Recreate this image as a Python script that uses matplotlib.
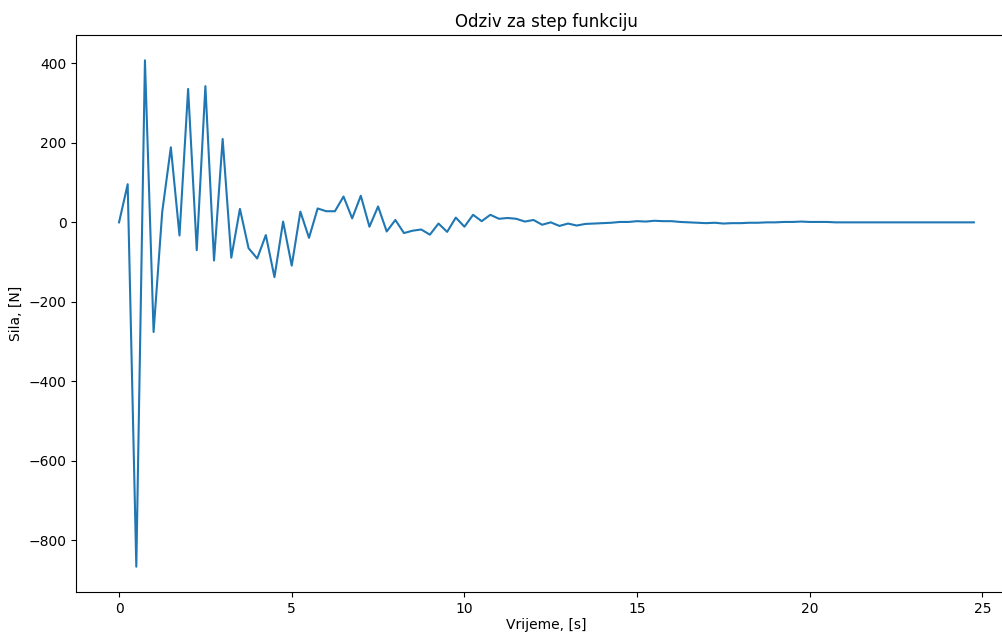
import numpy as np
import matplotlib
matplotlib.use('Agg')
import matplotlib.pyplot as plt

# sample spacing of the response [s]
dt = 0.25

# force response, one value per time step
sila = [0, 96, -867, 408, -276, 26, 189, -33, 336, -70,
        343, -96, 210, -89, 34, -65, -91, -32, -138, 2,
        -109, 27, -39, 35, 28, 28, 65, 10, 67, -11,
        40, -23, 6, -27, -21, -18, -31, -3, -24, 12,
        -11, 19, 3, 19, 9, 11, 9, 2, 6, -6,
        0, -9, -3, -8, -4, -3, -2, -1, 1, 1,
        3, 2, 4, 3, 3, 1, 0, -1, -2, -1,
        -3, -2, -2, -1, -1, 0, 0, 1, 1, 2,
        1, 1, 1, 0, 0, 0, 0, 0, 0, 0,
        0, 0, 0, 0, 0, 0, 0, 0, 0, 0]
vrijeme = np.arange(len(sila)) * dt

fig = plt.figure(figsize=(10.03, 6.34), dpi=100)
# the reference is cropped on the right, so the axes runs past the figure edge
ax = fig.add_axes([76.3 / 1003, 42 / 634, 940.3 / 1003, 557 / 634])
ax.plot(vrijeme, sila)
ax.set_title('Odziv za step funkciju')
ax.set_xlabel('Vrijeme, [s]', labelpad=1.5)
ax.set_ylabel('Sila, [N]')

fig.savefig('out.png', dpi=100)
